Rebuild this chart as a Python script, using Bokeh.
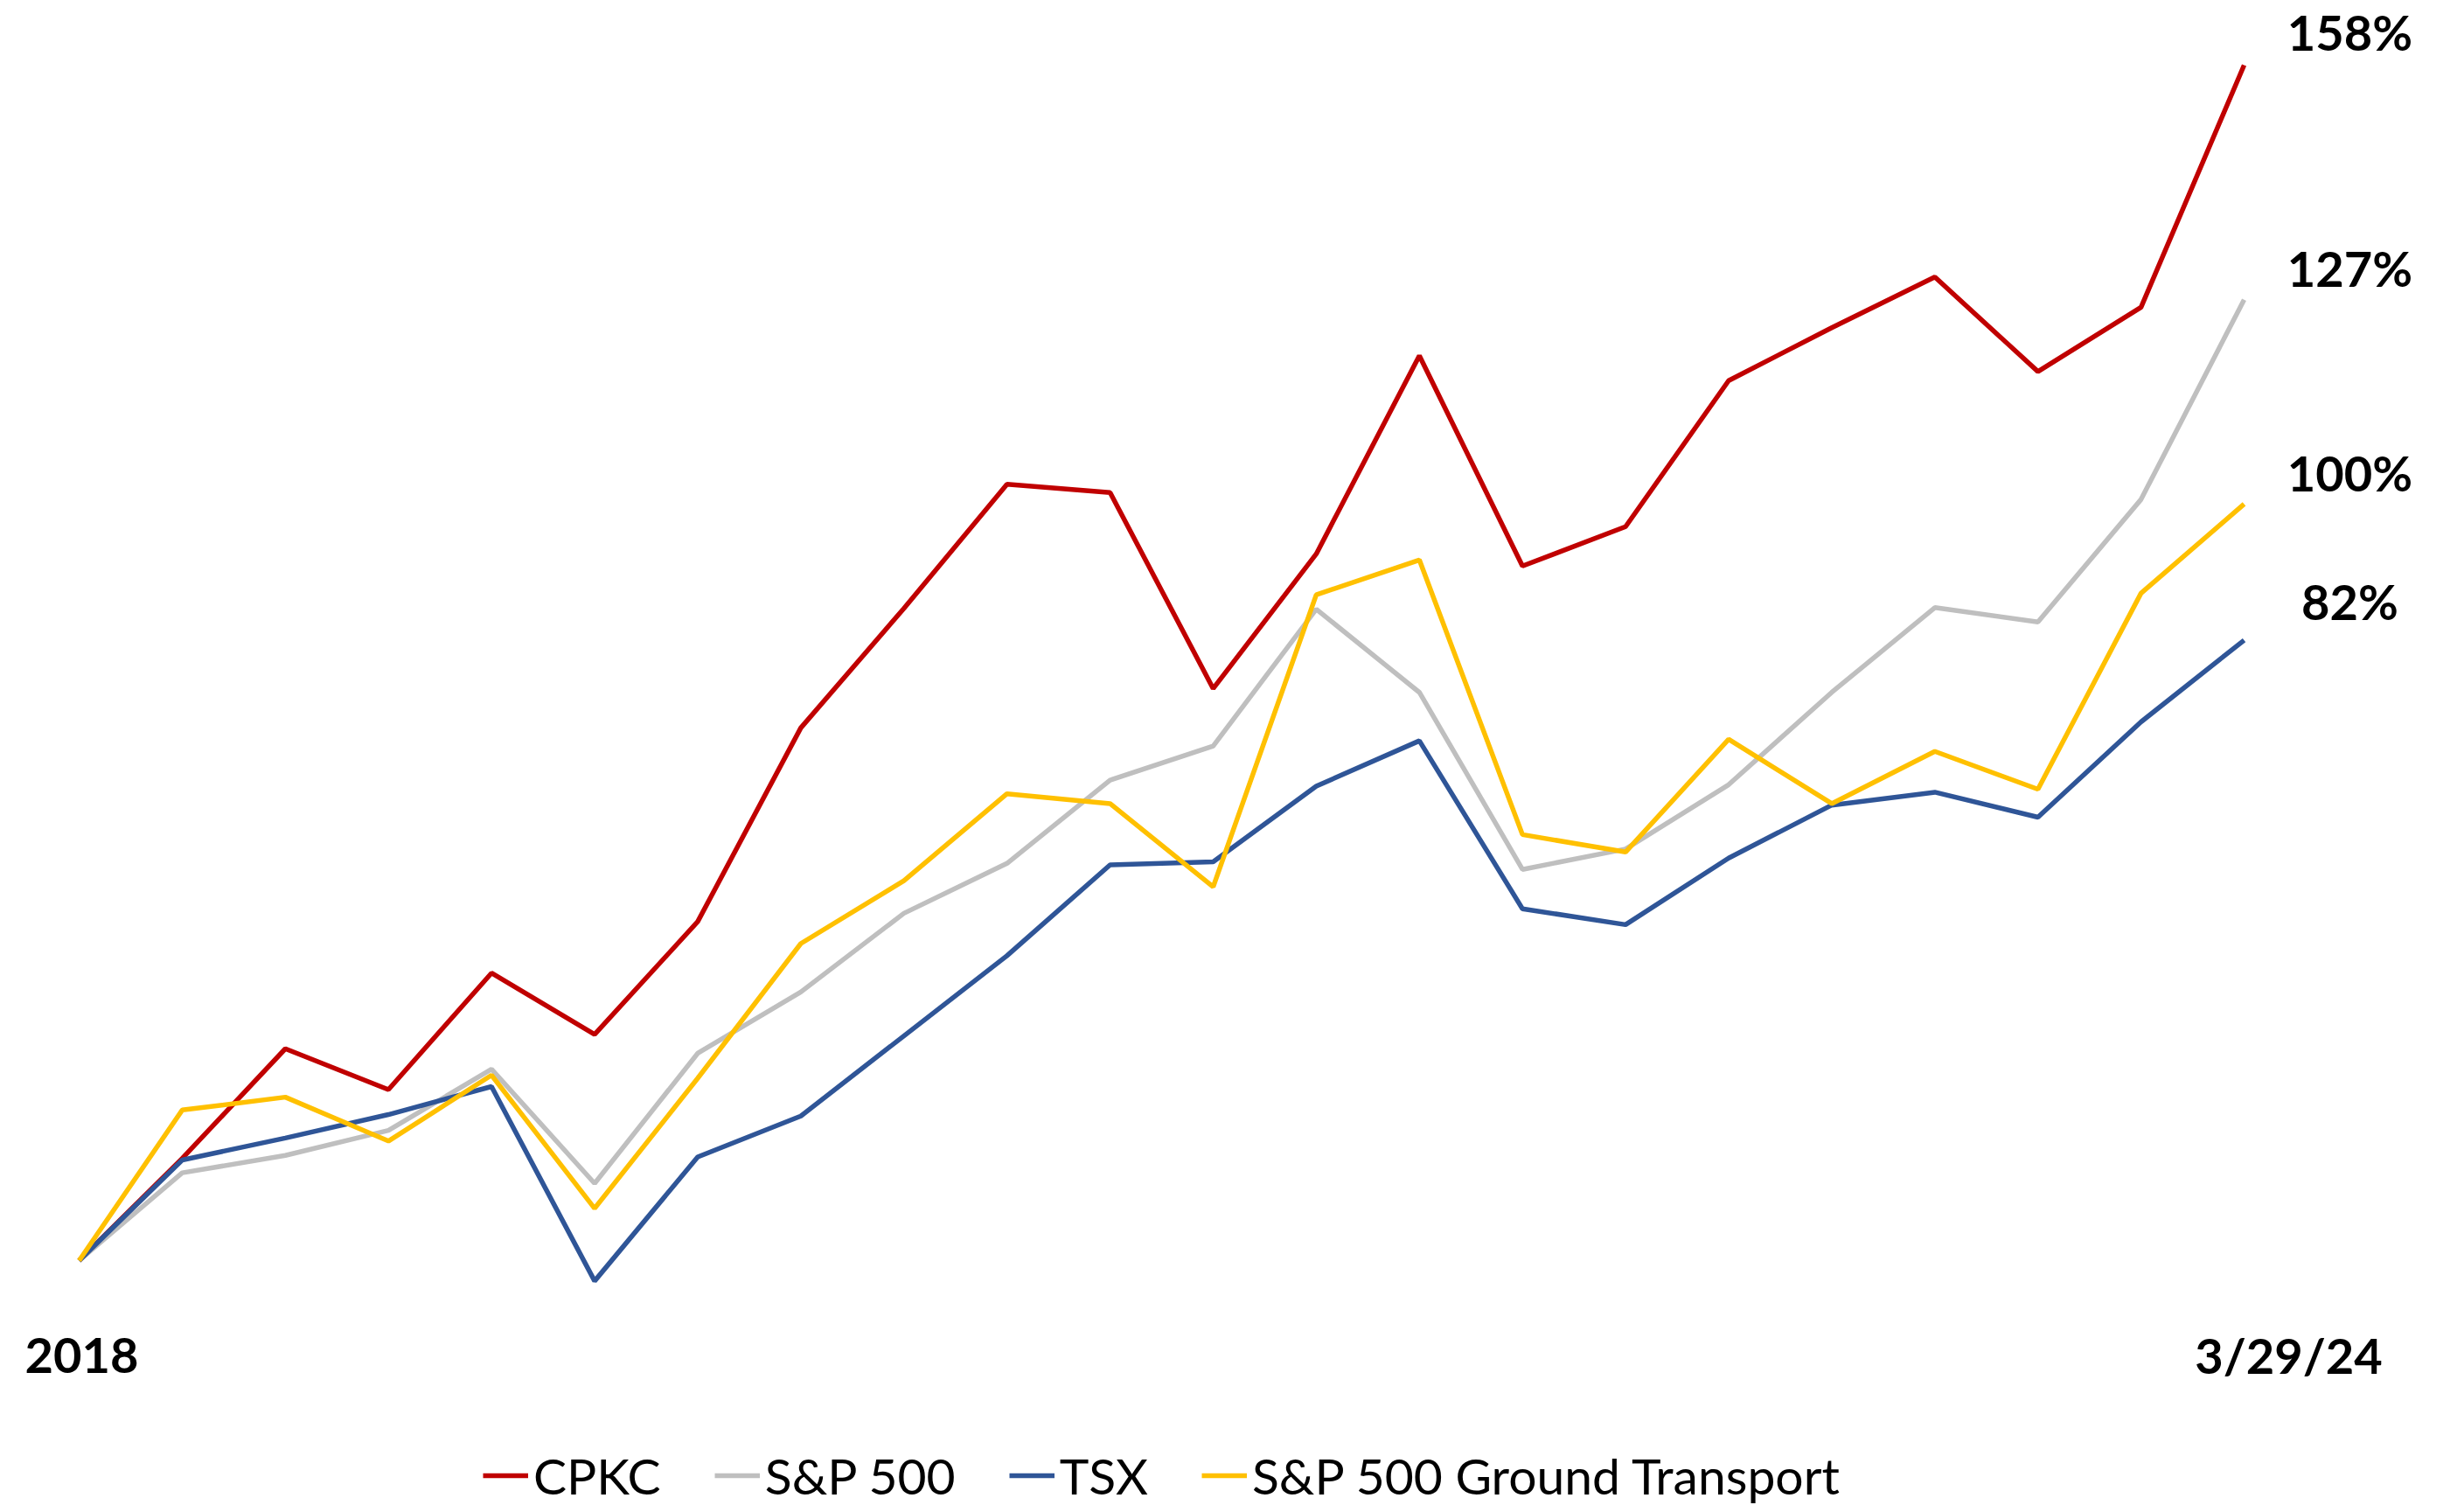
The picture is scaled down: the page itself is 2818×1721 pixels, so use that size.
from bokeh.plotting import figure
from bokeh.models import ColumnDataSource, Range1d, Legend, LegendItem, Label, LabelSet
from bokeh.core.properties import value
from bokeh.embed import file_html
from bokeh.resources import INLINE

# ---- data (cumulative total return, %) ----
periods = list(range(22))
cpkc = [0, 13.5, 28.0, 22.6, 38.0, 29.9, 44.8, 70.4, 86.2, 102.6, 101.5, 75.6,
        93.4, 119.6, 91.8, 97.0, 116.3, 123.3, 130.0, 117.5, 126.0, 158.0]
sp500 = [0, 11.6, 13.9, 17.2, 25.3, 10.2, 27.4, 35.5, 45.9, 52.5, 63.5, 68.0,
         86.1, 75.1, 51.7, 54.4, 62.9, 75.1, 86.3, 84.4, 100.6, 127.0]
tsx = [0, 13.3, 16.2, 19.3, 23.0, -2.7, 13.7, 19.1, 29.7, 40.3, 52.3, 52.7,
       62.7, 68.7, 46.5, 44.4, 53.2, 60.2, 61.9, 58.6, 71.2, 82.0]
ground = [0, 19.9, 21.6, 15.8, 24.5, 6.9, 24.1, 41.9, 50.2, 61.7, 60.4, 49.4,
          88.0, 92.6, 56.3, 54.0, 68.9, 60.4, 67.3, 62.3, 88.2, 100.0]
series_names = ["CPKC", "S&P 500", "TSX", "S&P 500 Ground Transport"]
series_colors = ["#C00000", "#BFBFBF", "#2F5597", "#FFC000"]
start_label = "2018"
end_label = "3/29/24"

W, H = 2818, 1721
p = figure(width=W, height=H, output_backend="svg", toolbar_location=None,
           x_axis_type=None, y_axis_type=None,
           x_range=Range1d(-0.7634, 23.137), y_range=Range1d(-32.36, 166.55),
           min_border=0, outline_line_color=None)
p.grid.visible = False
p.background_fill_color = "white"
p.border_fill_color = "white"

FONT = "Lato"
items = []
for name, vals, col in zip(series_names, [cpkc, sp500, tsx, ground], series_colors):
    src = ColumnDataSource(dict(x=periods, y=vals))
    r = p.line("x", "y", source=src, line_color=col, line_width=5.5)
    items.append(LegendItem(label=name, renderers=[r]))

# end-of-line value labels (order: CPKC, S&P 500, Ground Transport, TSX)
finals = [cpkc[-1], sp500[-1], ground[-1], tsx[-1]]
nudge = [38, 36, 36, 45]  # vertical pixel offsets of the labels
lab_src = ColumnDataSource(dict(x=[periods[-1]] * 4, y=finals, dy=nudge,
                                t=[f"{v:.0f}%" for v in finals]))
p.add_layout(LabelSet(x="x", y="y", text="t", source=lab_src, x_offset=121, y_offset="dy",
                      text_align="center", text_baseline="middle",
                      text_font=value(FONT), text_font_style="bold",
                      text_font_size="56px", text_color="black"))

# axis end labels
p.add_layout(Label(x=periods[0], y=172, y_units="screen", text=start_label, x_offset=3,
                   text_align="center", text_baseline="middle", text_font=FONT,
                   text_font_style="bold", text_font_size="56px", text_color="black"))
p.add_layout(Label(x=periods[-1], y=172, y_units="screen", text=end_label, x_offset=51,
                   text_align="center", text_baseline="middle", text_font=FONT,
                   text_font_style="bold", text_font_size="56px", text_color="black"))

legend = Legend(items=items, orientation="horizontal", location=(552, 0),
                label_text_font=FONT, label_text_font_size="57px",
                label_text_color="black", glyph_width=52, glyph_height=40,
                label_standoff=6, spacing=61, padding=0, margin=0,
                border_line_color=None, background_fill_alpha=0)
p.add_layout(legend, "center")

open("out.html", "w").write(file_html(p, INLINE))
